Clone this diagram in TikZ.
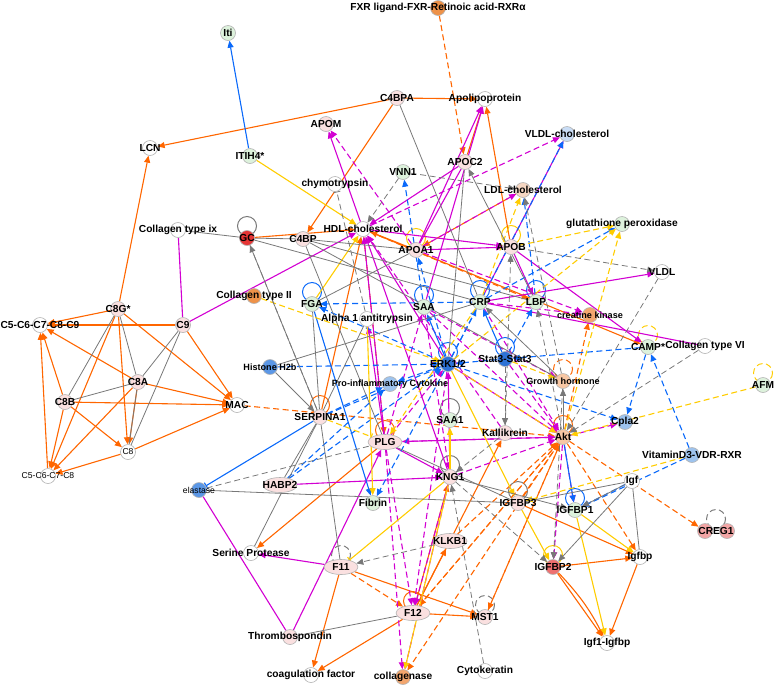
\documentclass[tikz,border=0pt]{standalone}
\usepackage{fontspec}
\setmainfont{Liberation Sans}
\usetikzlibrary{arrows.meta,shapes.geometric}
\definecolor{OR}{RGB}{255,102,0}
\definecolor{MG}{RGB}{210,0,210}
\definecolor{BL}{RGB}{10,105,250}
\definecolor{YL}{RGB}{255,204,0}
\definecolor{GR}{RGB}{120,120,120}
\definecolor{cw}{RGB}{255,255,255}
\definecolor{cp}{RGB}{250,224,224}
\definecolor{cg}{RGB}{221,242,220}
\definecolor{cbl}{RGB}{201,221,246}
\definecolor{cb2}{RGB}{157,195,238}
\definecolor{cb3}{RGB}{91,151,230}
\definecolor{cb4}{RGB}{46,115,214}
\definecolor{co}{RGB}{238,146,73}
\definecolor{co2}{RGB}{243,166,110}
\definecolor{co3}{RGB}{247,199,164}
\definecolor{co4}{RGB}{245,214,194}
\definecolor{cr}{RGB}{229,53,53}
\definecolor{cr2}{RGB}{238,112,112}
\definecolor{cr3}{RGB}{243,165,165}
\pgfdeclarelayer{bg}
\pgfsetlayers{bg,main}
\begin{document}
\begin{tikzpicture}[x=1pt,y=-1pt,
  >={Triangle[length=7pt,width=6pt]},
  sym/.style={circle,draw=black!30,line width=0.6pt,minimum size=15pt,inner sep=0pt},
  els/.style={ellipse,draw=black!30,line width=0.6pt,minimum width=34pt,minimum height=15pt,inner sep=0pt,fill=cp},
  lab/.style={font=\bfseries\fontsize{10.2}{11}\selectfont,inner sep=0pt},
  mlab/.style={font=\bfseries\fontsize{9.1}{10}\selectfont,inner sep=0pt},
  slab/.style={font=\fontsize{8.6}{10}\selectfont,inner sep=0pt},
  ln/.style={line width=1.1pt},
  dsh/.style={dash pattern=on 6pt off 3.5pt},
  eo/.style={ln,draw=OR,->}, eod/.style={eo,dsh},
  em/.style={ln,draw=MG,->}, emd/.style={em,dsh}, eml/.style={ln,draw=MG},
  eb/.style={ln,draw=BL,->}, ebd/.style={eb,dsh},
  ey/.style={ln,draw=YL,->}, eyd/.style={ey,dsh},
  eg/.style={line width=0.8pt,draw=GR}, ega/.style={eg,->},
  egd/.style={eg,dsh,->}, egdl/.style={eg,dsh},
  tbar/.style={-{Bar[width=7pt]}}
]
\useasboundingbox (0,0) rectangle (775,686);

% ---------- nodes ----------
\foreach \id/\x/\y/\c in {Iti/228/33/cg, FXR/438/8/co, C4BPA/397/98/cp, Apolipo/485/99/cw, APOM/326/124/cp,
  LCN/150/148/cw, ITIH4/250/156/cg, VLDLc/567/134/cbl, VNN1/403/172/cg, APOC2/465/162/cp, chymo/335/184/cw,
  LDLc/523/190/co4, Colix/178/230/cw, GC/247/238/cr, C4BP/303/239/cp, HDL/363/229/cw, GPX/622/224/cg,
  APOA1/416/250/cp, APOB/511/247/cp, VLDL/662/272/cw, ColII/254/296/co, FGA/312/304/cg, SAA/424/307/cg,
  CRP/480/302/cg, LBP/536/302/cg, CK/590/315/co2, A1AT/367/319/cw, C8Gs/118/309/cp, C5C9/40/325/cw,
  C9/183/325/cp, CAMP/648/347/cg, ColVI/705/346/cw, H2b/270/367/cb3, ERK/448/364/cb4, Stat3/505/359/cb4,
  GH/563/381/co3, AFM/763/385/cg, ProInf/390/384/cb2, C8A/138/382/cp, C8B/65/402/cp, MAC/237/405/cw,
  SERPINA1/320/417/cp, SAA1/450/420/cg, Cpla2/625/422/cb2, Kallik/505/433/cp, Akt/563/437/co3,
  C8/128/452/cw, VitD/692/455/cb2, C5C8/48/476/cw, KNG1/450/477/cp, Igf/632/481/cw, elastase/199/490/cb3,
  Fibrin/373/503/cg, IGFBP3/518/503/cp, IGFBP1/575/510/cg, CREG1/705/531/cr3, CREGb/727/531/cr3,
  Serine/251/553/cw, Igfbp/640/557/cw, IGFBP2/553/567/cr2, MST1/485/617/cp, Thromb/290/637/cp,
  Igf1Igfbp/607/643/cw, coag/311/675/cw, collagenase/403/677/co2, Cytok/485/671/cw}
  \node[sym,fill=\c] (\id) at (\x,\y) {};
\foreach \id/\x/\y in {PLG/385/442, HABP2/280/485, KLKB1/450/541, F11/341/567, F12/413/613}
  \node[els] (\id) at (\x,\y) {};

% ---------- edges ----------
\begin{pgfonlayer}{bg}
% self loops
\foreach \id/\c/\d in {GC/GR/solid, APOA1/YL/solid, APOB/YL/solid, FGA/BL/solid, SAA/BL/solid, CRP/BL/solid,
  LBP/BL/solid, ERK/BL/solid, Stat3/BL/solid, SERPINA1/OR/solid, PLG/OR/solid, SAA1/GR/solid, KNG1/GR/solid,
  IGFBP3/GR/solid, IGFBP1/BL/solid, IGFBP2/YL/solid, Akt/OR/solid, GH/OR/dsh, CAMP/YL/dsh, AFM/YL/dsh,
  F11/GR/dsh, F12/OR/solid, MST1/GR/dsh}
  \draw[line width=1pt,draw=\c,\d] (\id.center) ++(0,-12) circle[radius=9.5];
\draw[line width=1pt,draw=GR,dsh] (716,519) circle[radius=9.5];

\foreach \a/\b in {C8Gs/LCN, C8Gs/C5C9, C9/C5C9, C8Gs/MAC, C9/MAC, C8A/MAC, C8B/MAC, C8/MAC, C8A/C5C9,
  C5C8/C5C9, C8B/C5C9, C8Gs/C8, C8A/C8, C8B/C8, C8Gs/C5C8, C8A/C5C8, C8/C5C8, C8B/C5C8, C4BPA/LCN,
  C4BPA/Apolipo, C4BPA/C4BP, APOC2/Apolipo, APOB/Apolipo, GC/HDL, APOA1/HDL, SERPINA1/HDL, HDL/CAMP,
  PLG/Serine, F11/coag, F12/coag, F11/MST1, F12/MST1, F12/KLKB1, F12/Kallik, F12/KNG1, IGFBP3/Igfbp,
  IGFBP2/Igfbp, IGFBP2/Igf1Igfbp, Igfbp/Igf1Igfbp}
  \draw[eo] (\a) -- (\b);
\draw[eo] (IGFBP2) to[bend left=8] (Igf1Igfbp);

\foreach \a/\b in {FXR/APOC2, MAC/Akt, HDL/PLG, LDLc/APOA1, HDL/LBP, F11/F12, F12/Akt, MST1/Akt, KLKB1/Akt,
  IGFBP3/Akt, Akt/CK, Akt/Igfbp, Akt/CREG1, Akt/MST1, Akt/F12, Akt/collagenase}
  \draw[eod] (\a) -- (\b);

\foreach \a/\b in {C9/HDL, APOC2/HDL, APOA1/Apolipo, SAA/Apolipo, HDL/APOM, CRP/VLDLc, APOA1/APOB, HDL/APOB,
  CRP/VLDL, APOB/CAMP, HABP2/KNG1, F11/Serine, Thromb/PLG, ERK/Akt, Akt/PLG, PLG/KNG1, PLG/A1AT, KNG1/ERK,
  KNG1/HDL, PLG/HDL, APOB/LBP, ERK/HDL}
  \draw[em] (\a) -- (\b);
\foreach \a/\b in {CRP/ColVI, elastase/Thromb, APOC2/APOA1, C9/Colix}
  \draw[eml] (\a) -- (\b);
\foreach \a/\b in {APOA1/APOM, HDL/VLDLc, APOA1/LDLc, CRP/CK, APOA1/CK, PLG/F12, PLG/collagenase, KNG1/F12,
  KNG1/Akt, PLG/Akt, SAA/Akt, CRP/Akt, Stat3/Akt, Akt/Cpla2, Akt/IGFBP1, Akt/IGFBP2, SAA/GH, SAA/KNG1,
  Kallik/HDL, PLG/SAA, PLG/ERK, KNG1/collagenase, ERK/F12}
  \draw[emd] (\a) -- (\b);

\foreach \a/\b in {ITIH4/Iti, FGA/Fibrin, ERK/SAA, Stat3/CRP, Akt/IGFBP1}
  \draw[eb] (\a) -- (\b);
\draw[ln,draw=BL,tbar] (SERPINA1) -- (elastase);
\foreach \a/\b in {SAA/VNN1, CRP/FGA, ERK/FGA, H2b/ERK, ERK/Cpla2, CAMP/Cpla2, VitD/CAMP, VitD/IGFBP1,
  Igf/IGFBP1, CAMP/Stat3, ERK/VLDLc, CRP/GPX, LBP/LDLc, ERK/CRP, Stat3/LBP, ERK/APOA1, ERK/ProInf,
  SERPINA1/ERK, SERPINA1/ProInf, HABP2/ProInf, ERK/Fibrin, Stat3/ERK, HABP2/ERK}
  \draw[ebd] (\a) -- (\b);

\foreach \a/\b in {ITIH4/HDL, FGA/HDL, ERK/IGFBP3, KNG1/SAA1, KNG1/collagenase, A1AT/Fibrin, IGFBP1/Igfbp,
  IGFBP1/Igf1Igfbp, IGFBP3/IGFBP2}
  \draw[ey] (\a) -- (\b);
\draw[ln,draw=YL,tbar] (KNG1) -- (F11);
\foreach \a/\b in {ColII/ERK, APOB/GPX, ERK/GPX, Akt/GPX, CRP/LDLc, VitD/IGFBP3, AFM/Akt, ERK/Akt, Stat3/GH,
  CRP/PLG}
  \draw[eyd] (\a) -- (\b);
\draw[ln,draw=YL,dsh,tbar] (SERPINA1) -- (PLG);

\foreach \a/\b in {C8Gs/C8B, C8Gs/C8A, C9/C8A, C9/C8, C8A/C8B, C8A/C8, Colix/GC, GC/C4BP, C4BP/APOA1,
  GC/CRP, C4BP/LBP, C4BPA/CRP, GC/SERPINA1, C4BP/PLG, FGA/SERPINA1, FGA/APOA1, H2b/CRP, HABP2/SERPINA1,
  Serine/SERPINA1, F11/SERPINA1, elastase/IGFBP3, Thromb/F12, Igf/IGFBP3, Igf/Igfbp, PLG/IGFBP3,
  APOC2/ERK, A1AT/SERPINA1, C4BP/GH}
  \draw[eg] (\a) -- (\b);
\foreach \a/\b in {H2b/SERPINA1, Igf/IGFBP1, Igf/IGFBP2, KNG1/IGFBP1, LBP/APOC2, GH/CRP, Akt/GH}
  \draw[ega] (\a) -- (\b);
\foreach \a/\b in {VNN1/LDLc, VNN1/HDL, SERPINA1/GC, KLKB1/F11, Cytok/KNG1, VLDL/Akt, ColVI/Akt, APOB/VLDL,
  Stat3/Kallik, Kallik/KNG1, Kallik/APOB, GH/LDLc, GH/IGFBP2, KNG1/IGFBP2, Akt/LBP}
  \draw[egd] (\a) -- (\b);
\draw[eg,dsh,tbar] (A1AT) -- (chymo);
\draw[egdl] (elastase) -- (PLG);
\end{pgfonlayer}

% ---------- labels ----------
\foreach \id/\t in {Iti/Iti, FXR/{FXR ligand-FXR-Retinoic acid-RXRα}, C4BPA/C4BPA, Apolipo/Apolipoprotein,
  APOM/APOM, LCN/LCN, ITIH4/ITIH4*, VLDLc/VLDL-cholesterol, VNN1/VNN1, APOC2/APOC2, chymo/chymotrypsin,
  LDLc/LDL-cholesterol, Colix/Collagen type ix, GC/GC, C4BP/C4BP, HDL/HDL-cholesterol,
  GPX/glutathione peroxidase, APOA1/APOA1, APOB/APOB, VLDL/VLDL, ColII/Collagen type II, FGA/FGA, SAA/SAA,
  CRP/CRP, LBP/LBP, A1AT/Alpha 1 antitrypsin, C8Gs/C8G*, C5C9/C5-C6-C7-C8-C9, C9/C9, CAMP/CAMP*,
  ColVI/Collagen type VI, ERK/{ERK1/2}, Stat3/Stat3-Stat3, AFM/AFM, C8A/C8A, C8B/C8B, MAC/MAC,
  SERPINA1/SERPINA1, SAA1/SAA1, Cpla2/Cpla2, Kallik/Kallikrein, Akt/Akt, PLG/PLG, VitD/VitaminD3-VDR-RXR,
  KNG1/KNG1, Igf/Igf, HABP2/HABP2, Fibrin/Fibrin, IGFBP3/IGFBP3, IGFBP1/IGFBP1, KLKB1/KLKB1,
  Serine/Serine Protease, Igfbp/Igfbp, IGFBP2/IGFBP2, F11/F11, F12/F12, MST1/MST1, Thromb/Thrombospondin,
  Igf1Igfbp/Igf1-Igfbp, coag/coagulation factor, collagenase/collagenase, Cytok/Cytokeratin}
  \node[lab] (\id-l) at (\id) {\t};
\foreach \id/\t in {CK/creatine kinase, GH/Growth hormone, ProInf/Pro-inflammatory Cytokine, H2b/Histone H2b}
  \node[mlab] (\id-l) at (\id) {\t};
\foreach \id/\t in {C8/C8, C5C8/C5-C6-C7-C8, elastase/elastase}
  \node[slab] (\id-l) at (\id) {\t};
\node[lab] (CREG1-l) at (716,531) {CREG1};
\end{tikzpicture}
\end{document}
